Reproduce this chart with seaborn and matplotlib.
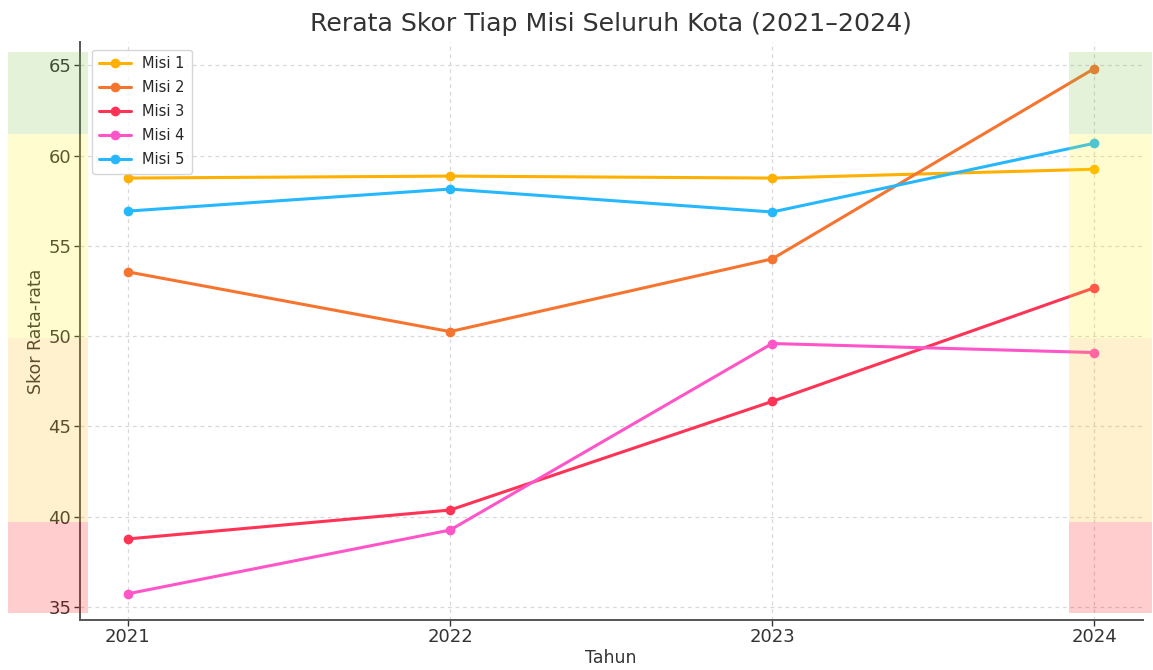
import matplotlib
matplotlib.use("Agg")
from matplotlib import pyplot as plt
from matplotlib.patches import Rectangle
import pandas as pd
import seaborn as sns

# data
years = [2021, 2022, 2023, 2024]
missions = ["Misi 1", "Misi 2", "Misi 3", "Misi 4", "Misi 5"]
misi1 = [58.76, 58.87, 58.76, 59.25]
misi2 = [53.56, 50.25, 54.28, 64.83]
misi3 = [38.76, 40.36, 46.38, 52.68]
misi4 = [35.72, 39.25, 49.59, 49.09]
misi5 = [56.93, 58.15, 56.88, 60.69]
colors = ["#FFB000", "#F7742F", "#FF3355", "#FF55C8", "#25B8FF"]

# score bands (low, high, colour)
band_edges = [34.67, 39.7, 49.9, 61.2, 65.77]
band_colors = ["#FF0505", "#FFB40A", "#FFF514", "#7DBE46"]

rows = []
for name, vals in zip(missions, [misi1, misi2, misi3, misi4, misi5]):
    for y, v in zip(years, vals):
        rows.append({"Tahun": y, "Skor": v, "Misi": name})
df = pd.DataFrame(rows)

sns.set_theme(style="whitegrid")
plt.rcParams["font.family"] = ["DejaVu Sans"]

fig = plt.figure(figsize=(11.53, 6.70), dpi=100)
ax = fig.add_axes([0.069, 0.075, 0.922, 0.862])

sns.lineplot(data=df, x="Tahun", y="Skor", hue="Misi", palette=colors,
             marker="o", markersize=7, markeredgewidth=0, linewidth=2.2, ax=ax)

# coloured bands on the left and right edges
for x0, x1 in [(2020.628, 2020.876), (2023.92, 2024.18)]:
    for lo, hi, c in zip(band_edges[:-1], band_edges[1:], band_colors):
        ax.add_patch(Rectangle((x0, lo), x1 - x0, hi - lo, facecolor=c,
                               alpha=0.2, edgecolor="none", zorder=3, clip_on=False))

ax.set_xlim(2020.85, 2024.15)
ax.set_ylim(34.28, 66.29)
ax.set_xticks(years)
ax.set_yticks([35, 40, 45, 50, 55, 60, 65])
ax.set_facecolor("white")
ax.grid(True, linestyle=(0, (3, 3)), color="#d8d8d8", linewidth=0.9)
for s in ["top", "right"]:
    ax.spines[s].set_visible(False)
for s in ["left", "bottom"]:
    ax.spines[s].set_color("#555555")
    ax.spines[s].set_linewidth(1.4)
ax.tick_params(axis="both", which="major", labelsize=13, colors="#333333",
               length=4, width=1, direction="out", bottom=True, left=True, pad=2)

ax.set_title("Rerata Skor Tiap Misi Seluruh Kota (2021\u20132024)", fontsize=18.2,
             color="#333333", pad=8)
ax.set_xlabel("Tahun", fontsize=12.5, color="#333333", labelpad=2)
ax.set_ylabel("Skor Rata-rata", fontsize=12.5, color="#333333", labelpad=2)

leg = ax.legend(loc="upper left", fontsize=10.5, frameon=True, borderpad=0.45,
                handlelength=2.2, labelspacing=0.62, bbox_to_anchor=(0.005, 1.0))
leg.set_title(None)
leg.get_frame().set_edgecolor("#cccccc")

fig.savefig("out.png", dpi=100)
